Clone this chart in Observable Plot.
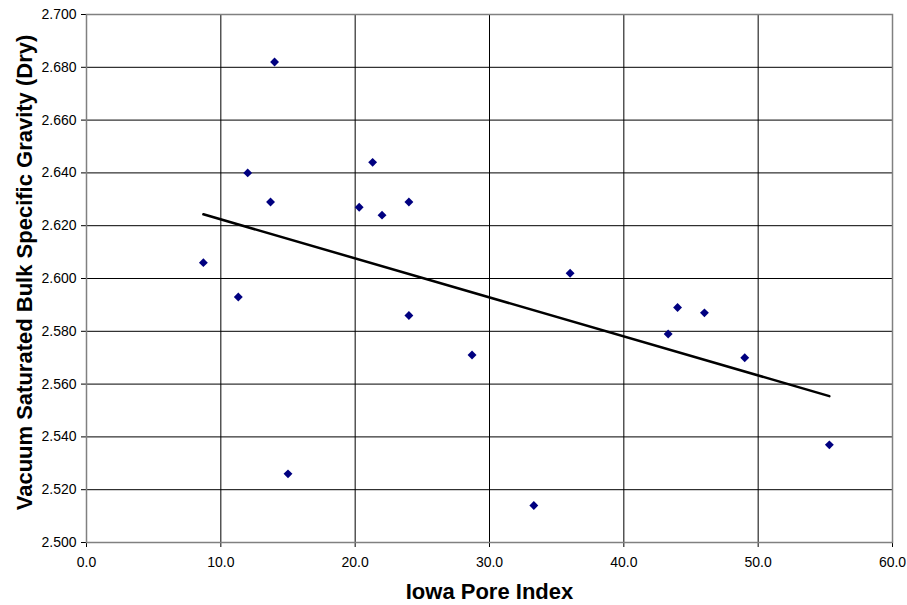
<!DOCTYPE html>
<html>
<head>
<meta charset="utf-8">
<script src="https://cdn.jsdelivr.net/npm/d3@7"></script>
<script src="https://cdn.jsdelivr.net/npm/@observablehq/plot@0.6"></script>
<style>
  html, body { margin: 0; padding: 0; background: #fff; }
  #chart { width: 907px; height: 605px; }
</style>
</head>
<body>
<div id="chart"></div>
<script>
// Data
const poreIndex = [8.7, 11.3, 12.0, 13.7, 14.0, 15.0, 20.3, 21.3, 22.0, 24.0, 24.0, 28.7, 33.3, 36.0, 43.3, 44.0, 46.0, 49.0, 55.3];
const specificGravity = [2.606, 2.593, 2.640, 2.629, 2.682, 2.526, 2.627, 2.644, 2.624, 2.629, 2.586, 2.571, 2.514, 2.602, 2.579, 2.589, 2.587, 2.570, 2.537];
const xTicks = [0, 10, 20, 30, 40, 50, 60];
const yTicks = [2.50, 2.52, 2.54, 2.56, 2.58, 2.60, 2.62, 2.64, 2.66, 2.68, 2.70];
const xTitle = "Iowa Pore Index";
const yTitle = "Vacuum Saturated Bulk Specific Gravity (Dry)";

const points = poreIndex.map((x, i) => ({x, y: specificGravity[i]}));

const chart = Plot.plot({
  width: 907,
  height: 605,
  marginLeft: 86,
  marginRight: 15,
  marginTop: 14,
  marginBottom: 63,
  style: {fontFamily: "'Liberation Sans', Arial, sans-serif", fontSize: "14px", color: "#000", background: "#fff"},
  x: {domain: [0, 60], ticks: xTicks, tickFormat: d => d.toFixed(1), tickSize: 5, tickPadding: 10, label: null},
  y: {domain: [2.5, 2.7], ticks: yTicks, tickFormat: d => d.toFixed(3), tickSize: 5, tickPadding: 5, label: null},
  marks: [
    Plot.ruleX(xTicks, {stroke: "#000", strokeWidth: 1}),
    Plot.ruleY(yTicks, {stroke: "#000", strokeWidth: 1}),
    Plot.frame({stroke: "#808080", strokeWidth: 1.5}),
    Plot.linearRegressionY(points, {x: "x", y: "y", ci: 0, stroke: "#000", strokeWidth: 2.5}),
    Plot.dot(points, {x: "x", y: "y", symbol: "diamond2", r: 4, fill: "#000080", stroke: "none"}),
    Plot.text([xTitle], {frameAnchor: "bottom", dy: 56, fontSize: 22, fontWeight: "bold", fill: "#000"}),
    Plot.text([yTitle], {frameAnchor: "left", textAnchor: "middle", dx: -62, dy: -6, rotate: -90, fontSize: 22, fontWeight: "bold", fill: "#000"})
  ]
});
document.getElementById("chart").appendChild(chart);
</script>
</body>
</html>
